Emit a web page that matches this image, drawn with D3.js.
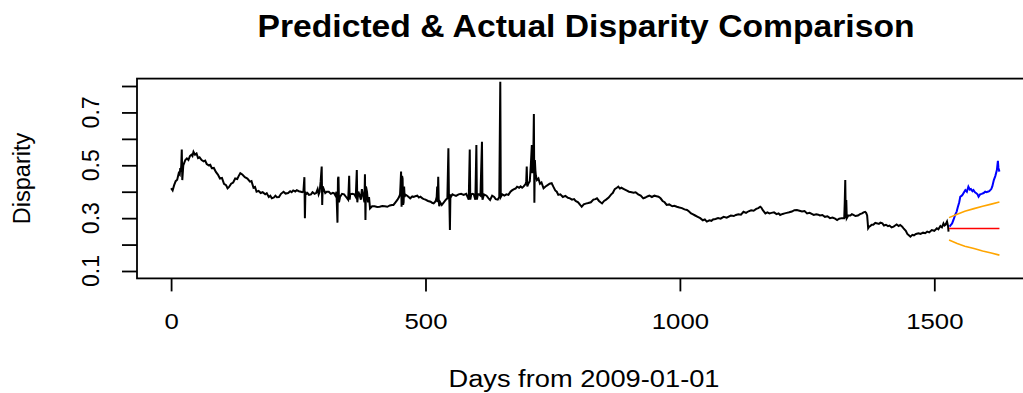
<!DOCTYPE html>
<html><head><meta charset="utf-8">
<script src="https://cdn.jsdelivr.net/npm/d3@7"></script>
<style>
html,body{margin:0;padding:0;background:#fff;overflow:hidden}
text{font-family:"Liberation Sans",Arial,sans-serif;fill:#000}
</style></head><body>
<svg id="c" width="1023" height="393"></svg>
<script>
// ---- data: [day, disparity] ----
const actual = [[0,0.413],[3,0.405],[6,0.425],[9,0.44],[12,0.445],[15,0.47],[17,0.465],[18,0.489],[19,0.475],[20,0.50],[21,0.56],[22,0.444],[24,0.50],[26,0.51],[28,0.52],[31,0.526],[34,0.52],[37,0.535],[40,0.54],[42,0.535],[44,0.551],[47,0.54],[50,0.545],[53,0.527],[56,0.53],[60,0.52],[64,0.515],[67,0.518],[70,0.505],[74,0.50],[77,0.502],[80,0.489],[84,0.49],[88,0.475],[92,0.465],[96,0.45],[100,0.452],[104,0.43],[108,0.425],[111,0.413],[114,0.418],[118,0.43],[122,0.435],[126,0.45],[130,0.448],[133,0.46],[136,0.47],[140,0.465],[145,0.455],[150,0.45],[155,0.438],[158,0.44],[162,0.415],[165,0.418],[168,0.40],[172,0.403],[176,0.395],[180,0.398],[185,0.39],[188,0.394],[192,0.38],[195,0.385],[198,0.375],[202,0.378],[205,0.385],[208,0.379],[212,0.38],[216,0.392],[221,0.40],[225,0.393],[230,0.395],[234,0.402],[237,0.398],[240,0.405],[244,0.401],[247,0.406],[251,0.402],[255,0.40],[258,0.398],[260,0.40],[262,0.455],[263,0.30],[264,0.40],[265,0.39],[268,0.395],[271,0.388],[275,0.39],[278,0.398],[282,0.392],[285,0.395],[288,0.41],[290,0.39],[292,0.40],[294,0.44],[296,0.495],[297,0.35],[298,0.42],[300,0.41],[303,0.395],[306,0.40],[310,0.40],[314,0.392],[318,0.396],[320,0.395],[323,0.385],[325,0.40],[327,0.283],[328,0.45],[329,0.457],[330,0.36],[332,0.38],[336,0.392],[340,0.39],[344,0.38],[348,0.37],[349,0.41],[350,0.46],[351,0.37],[352,0.39],[356,0.392],[360,0.39],[363,0.38],[365,0.482],[366,0.36],[368,0.40],[370,0.39],[373,0.37],[375,0.41],[378,0.38],[380,0.36],[381,0.466],[382,0.293],[383,0.42],[385,0.40],[387,0.36],[389,0.38],[391,0.337],[395,0.345],[400,0.345],[405,0.342],[410,0.343],[415,0.346],[420,0.345],[425,0.343],[430,0.348],[434,0.35],[437,0.35],[441,0.36],[445,0.37],[448,0.38],[450,0.39],[451,0.43],[452,0.476],[453,0.343],[454,0.46],[455,0.45],[456,0.35],[457,0.36],[458,0.42],[459,0.38],[460,0.39],[464,0.385],[467,0.38],[470,0.375],[474,0.382],[477,0.38],[480,0.383],[484,0.385],[487,0.378],[490,0.381],[494,0.375],[497,0.372],[500,0.37],[505,0.365],[510,0.362],[513,0.358],[516,0.356],[518,0.36],[520,0.365],[522,0.38],[523,0.42],[524,0.36],[525,0.457],[526,0.37],[527,0.345],[529,0.36],[532,0.35],[536,0.36],[540,0.37],[543,0.375],[545,0.564],[546,0.39],[547,0.36],[548,0.255],[549,0.39],[550,0.38],[553,0.39],[555,0.388],[560,0.384],[565,0.39],[570,0.392],[575,0.388],[580,0.392],[585,0.37],[587,0.56],[588,0.37],[590,0.39],[593,0.392],[595,0.39],[598,0.37],[600,0.577],[601,0.37],[603,0.39],[605,0.39],[608,0.385],[611,0.589],[612,0.37],[615,0.39],[620,0.385],[624,0.375],[627,0.369],[631,0.385],[635,0.38],[638,0.372],[642,0.37],[645,0.38],[647,0.816],[648,0.38],[651,0.39],[655,0.385],[659,0.39],[663,0.388],[667,0.40],[670,0.405],[674,0.41],[677,0.412],[680,0.419],[684,0.415],[687,0.42],[690,0.415],[693,0.42],[697,0.43],[698,0.44],[699,0.495],[700,0.42],[702,0.43],[705,0.44],[707,0.50],[709,0.577],[710,0.47],[711,0.50],[712,0.55],[713,0.694],[714,0.358],[715,0.52],[716,0.48],[717,0.46],[719,0.444],[722,0.45],[725,0.43],[728,0.435],[732,0.413],[736,0.42],[740,0.425],[744,0.43],[748,0.432],[751,0.42],[755,0.405],[758,0.40],[761,0.388],[765,0.39],[770,0.38],[775,0.384],[780,0.377],[784,0.375],[788,0.37],[792,0.372],[795,0.365],[800,0.36],[804,0.35],[807,0.343],[811,0.352],[815,0.355],[820,0.357],[825,0.36],[830,0.37],[834,0.372],[837,0.375],[841,0.365],[844,0.36],[847,0.356],[851,0.365],[855,0.37],[860,0.378],[865,0.39],[868,0.395],[872,0.41],[876,0.415],[879,0.419],[882,0.412],[885,0.415],[890,0.41],[895,0.405],[900,0.40],[905,0.398],[909,0.396],[913,0.398],[918,0.39],[923,0.385],[928,0.375],[932,0.378],[936,0.382],[940,0.385],[945,0.38],[950,0.385],[954,0.383],[958,0.381],[962,0.375],[966,0.365],[970,0.36],[974,0.35],[979,0.352],[985,0.345],[989,0.347],[994,0.343],[999,0.34],[1004,0.338],[1009,0.333],[1014,0.331],[1018,0.325],[1022,0.318],[1025,0.315],[1030,0.31],[1035,0.305],[1040,0.30],[1045,0.292],[1049,0.295],[1053,0.287],[1058,0.292],[1062,0.29],[1065,0.295],[1070,0.297],[1075,0.30],[1080,0.298],[1086,0.305],[1092,0.302],[1100,0.31],[1106,0.308],[1110,0.312],[1115,0.315],[1120,0.313],[1125,0.324],[1130,0.32],[1135,0.326],[1140,0.33],[1145,0.328],[1150,0.335],[1154,0.338],[1158,0.343],[1160,0.34],[1163,0.33],[1168,0.318],[1172,0.322],[1176,0.318],[1180,0.32],[1185,0.322],[1190,0.315],[1194,0.318],[1197,0.312],[1202,0.316],[1206,0.318],[1210,0.32],[1215,0.322],[1220,0.325],[1225,0.33],[1230,0.331],[1235,0.328],[1240,0.325],[1245,0.327],[1250,0.318],[1255,0.32],[1260,0.315],[1263,0.312],[1268,0.315],[1272,0.313],[1275,0.31],[1280,0.312],[1285,0.305],[1290,0.307],[1295,0.30],[1300,0.302],[1305,0.298],[1309,0.293],[1313,0.298],[1318,0.30],[1323,0.30],[1324,0.36],[1325,0.444],[1326,0.30],[1327,0.369],[1328,0.30],[1331,0.31],[1335,0.31],[1338,0.315],[1341,0.312],[1345,0.308],[1350,0.31],[1354,0.315],[1358,0.318],[1361,0.322],[1364,0.324],[1366,0.32],[1368,0.31],[1370,0.262],[1372,0.268],[1374,0.27],[1377,0.275],[1380,0.275],[1384,0.282],[1388,0.28],[1391,0.278],[1394,0.283],[1398,0.28],[1401,0.272],[1405,0.275],[1409,0.27],[1412,0.272],[1416,0.265],[1420,0.268],[1423,0.272],[1426,0.276],[1430,0.27],[1433,0.274],[1437,0.268],[1440,0.26],[1444,0.252],[1447,0.24],[1450,0.235],[1453,0.23],[1457,0.237],[1460,0.235],[1464,0.24],[1469,0.243],[1473,0.24],[1478,0.245],[1482,0.243],[1486,0.249],[1490,0.246],[1495,0.255],[1500,0.252],[1505,0.262],[1508,0.258],[1512,0.27],[1515,0.265],[1518,0.28],[1520,0.272],[1522,0.275],[1525,0.287],[1527,0.27],[1528,0.249]];

const test = [[1530,0.268],[1533,0.275],[1535,0.28],[1538,0.295],[1541,0.312],[1544,0.325],[1546,0.34],[1549,0.36],[1551,0.381],[1554,0.385],[1556,0.39],[1559,0.40],[1561,0.406],[1564,0.40],[1567,0.419],[1570,0.408],[1572,0.41],[1575,0.402],[1577,0.406],[1580,0.398],[1582,0.395],[1585,0.39],[1587,0.381],[1590,0.39],[1593,0.392],[1597,0.395],[1600,0.40],[1603,0.398],[1605,0.40],[1608,0.402],[1610,0.406],[1612,0.41],[1614,0.42],[1617,0.444],[1620,0.46],[1623,0.482],[1625,0.517],[1626,0.49],[1628,0.476]];

const forecastDays = [1529,1545,1560,1578,1595,1612,1628];
const predicted    = [0.261,0.261,0.261,0.261,0.261,0.261,0.261];
const upperBound   = [0.302,0.315,0.326,0.336,0.345,0.353,0.361];
const lowerBound   = [0.217,0.204,0.194,0.185,0.176,0.168,0.160];

const xTicks = [0,500,1000,1500];
const yTicks = [0.1,0.2,0.3,0.4,0.5,0.6,0.7,0.8];
const yTickLabels = [0.1,0.3,0.5,0.7];

const title = "Predicted & Actual Disparity Comparison";
const xLabel = "Days from 2009-01-01";
const yLabel = "Disparity";

// ---- drawing ----
const svg = d3.select("#c");
const x = d3.scaleLinear().domain([-67,1693]).range([137,1032.5]);
const y = d3.scaleLinear().domain([0.072,0.828]).range([278.4,78.6]);

const pairLine = d3.line().x(d=>x(d[0])).y(d=>y(d[1]));
const line = (xs, ys) => d3.line().x((d,i)=>x(xs[i])).y((d,i)=>y(ys[i]))(ys);

svg.append("path").attr("d", pairLine(actual))
  .attr("fill","none").attr("stroke","#000").attr("stroke-width",2);
svg.append("path").attr("d", pairLine(test))
  .attr("fill","none").attr("stroke","#0000ff").attr("stroke-width",2);
svg.append("path").attr("d", line(forecastDays, predicted))
  .attr("fill","none").attr("stroke","#ff0000").attr("stroke-width",1.6);
svg.append("path").attr("d", line(forecastDays, upperBound))
  .attr("fill","none").attr("stroke","#ffa500").attr("stroke-width",1.6);
svg.append("path").attr("d", line(forecastDays, lowerBound))
  .attr("fill","none").attr("stroke","#ffa500").attr("stroke-width",1.6);

// box
svg.append("rect").attr("x",137).attr("y",78.6).attr("width",x.range()[1]-137).attr("height",278.4-78.6)
  .attr("fill","none").attr("stroke","#000").attr("stroke-width",1.8);

// x axis
const xa = svg.append("g").attr("transform","translate(0,278.4)")
  .call(d3.axisBottom(x).tickValues(xTicks).tickSize(13).tickFormat(d3.format("d")));
xa.select(".domain").remove();
xa.selectAll(".tick line").attr("stroke","#000").attr("stroke-width",1.8);
xa.selectAll(".tick text").attr("font-size",23).attr("font-family","Liberation Sans, Arial, sans-serif")
  .attr("fill","#000").attr("dy",0).attr("y",51)
  .attr("transform","scale(1.12,1)");

// y axis
const ya = svg.append("g").attr("transform","translate(137,0)")
  .call(d3.axisLeft(y).tickValues(yTicks).tickSize(15).tickFormat(""));
ya.select(".domain").remove();
ya.selectAll(".tick line").attr("stroke","#000").attr("stroke-width",1.8);
svg.selectAll(".ylab").data(yTickLabels).join("text")
  .attr("class","ylab")
  .attr("transform", d => `translate(99,${y(d)}) rotate(-90)`)
  .attr("text-anchor","middle").attr("font-size",23).text(d=>d);

// titles
svg.append("text").attr("x",586).attr("y",37).attr("text-anchor","middle")
  .attr("font-size",32).attr("font-weight","bold")
  .attr("textLength",657).attr("lengthAdjust","spacingAndGlyphs").text(title);
svg.append("text").attr("x",584).attr("y",387).attr("text-anchor","middle")
  .attr("font-size",23.5).attr("textLength",271).attr("lengthAdjust","spacingAndGlyphs").text(xLabel);
svg.append("text").attr("transform","translate(30,178.5) rotate(-90)").attr("text-anchor","middle")
  .attr("font-size",23.5).text(yLabel);
</script></body></html>
